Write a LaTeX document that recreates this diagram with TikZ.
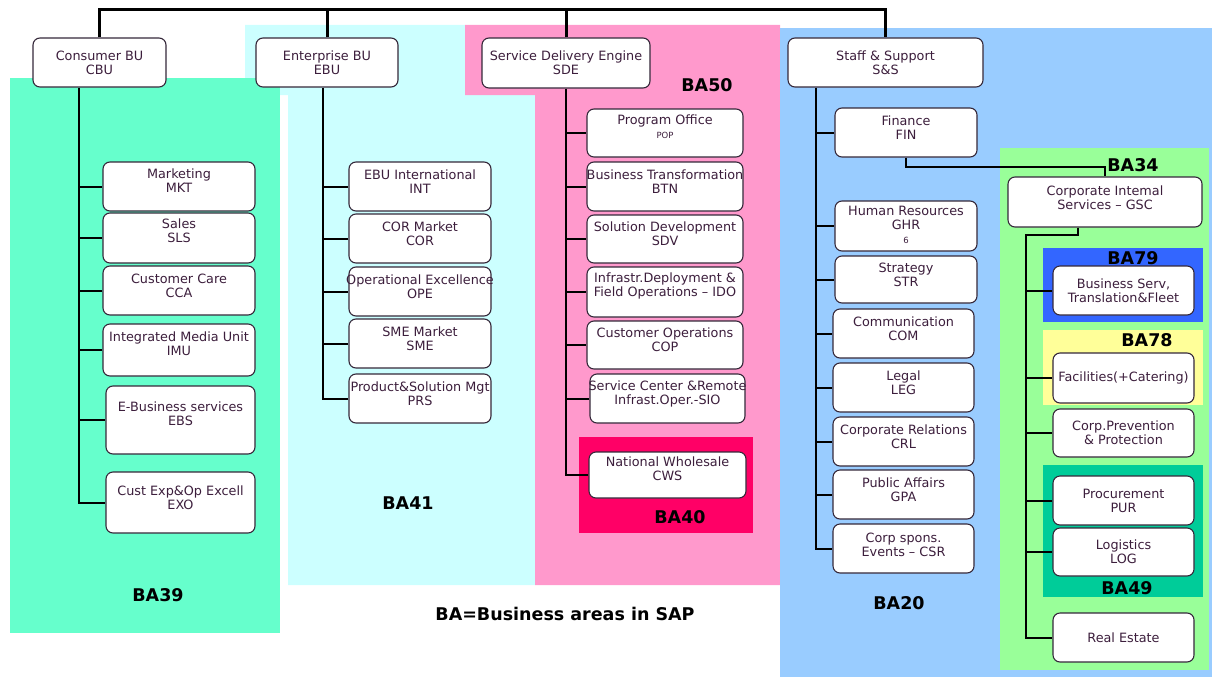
\documentclass[tikz,border=0pt]{standalone}
\usepackage{fontspec}
\setmainfont{DejaVu Sans}
\definecolor{cA}{HTML}{66FFCC}
\definecolor{cB}{HTML}{CCFFFF}
\definecolor{cC}{HTML}{FF99CC}
\definecolor{cD}{HTML}{99CCFF}
\definecolor{cE}{HTML}{99FF99}
\definecolor{cF}{HTML}{3366FF}
\definecolor{cG}{HTML}{FFFF99}
\definecolor{cH}{HTML}{00CC99}
\definecolor{cI}{HTML}{FF0066}
\definecolor{boxline}{HTML}{35283A}
\definecolor{txtcol}{HTML}{3C1E3C}
\tikzset{
  obx/.style={draw=boxline, line width=1.1pt, rounded corners=7pt, fill=white, inner sep=0pt},
  otx/.style={text=txtcol, align=center, font=\fontsize{12.8}{14}\selectfont, inner sep=0pt},
  balbl/.style={font=\bfseries\fontsize{17.5}{20}\selectfont, text=black, inner sep=0pt},
  trunk/.style={line width=2pt, black},
  conn/.style={line width=2pt, black},
  topline/.style={line width=3pt, black},
}
\newcommand\obox[7][5]{%
  \node[obx, minimum width={#5-#3}, minimum height={#6-#4}] (#2) at ({(#3+#5)/2},{(#4+#6)/2}) {};
  \node[otx] (#2t) at ([yshift=#1pt]#2.center) {#7};
}
\newcommand\smalltxt{\fontsize{8.5}{9}\selectfont}
\begin{document}
\begin{tikzpicture}[x=1pt,y=-1pt]
\useasboundingbox (0,0) rectangle (1212,677);
% background areas
\fill[cB] (245,25) -- (465,25) -- (465,95) -- (535,95) -- (535,585) -- (288,585) -- (288,95) -- (245,95) -- cycle;
\fill[cA] (10,78) rectangle (280,633);
\fill[cC] (465,25) -- (780,25) -- (780,585) -- (535,585) -- (535,95) -- (465,95) -- cycle;
\fill[cD] (780,28) rectangle (1212,677);
\fill[cE] (1000,148) rectangle (1209,670);
\fill[cF] (1043,248) rectangle (1203,322);
\fill[cG] (1043,330) rectangle (1203,405);
\fill[cH] (1043,465) rectangle (1203,597);
\fill[cI] (579,437) rectangle (753,533);

% top level
\obox[0]{cbu}{33}{38}{166}{87}{Consumer BU\\CBU}
\obox[0]{ebu}{256}{38}{398}{87}{Enterprise BU\\EBU}
\obox[0]{sde}{482}{38}{650}{88}{Service Delivery Engine\\SDE}
\obox[0]{ss}{788}{38}{983}{87}{Staff \& Support\\S\&S}

% CBU
\obox[6]{mkt}{103}{162}{255}{211}{Marketing\\MKT}
\obox[7]{sls}{103}{213}{255}{263}{Sales\\SLS}
\obox[5]{cca}{103}{266}{255}{315}{Customer Care\\CCA}
\obox[6]{imu}{103}{324}{255}{376}{Integrated Media Unit\\IMU}
\obox[6]{ebs}{106}{386}{255}{454}{E-Business services\\EBS}
\obox[5]{exo}{106}{472}{255}{533}{Cust Exp\&Op Excell\\EXO}

% EBU
\obox[5]{int}{349}{162}{491}{211}{EBU International\\INT}
\obox[5]{cor}{349}{214}{491}{263}{COR Market\\COR}
\obox[5]{ope}{349}{267}{491}{316}{Operational Excellence\\OPE}
\obox[5]{sme}{349}{319}{491}{368}{SME Market\\SME}
\obox[5]{prs}{349}{374}{491}{423}{Product\&Solution Mgt\\PRS}

% SDE
\obox[6]{pop}{587}{109}{743}{157}{Program Office\\{\smalltxt POP}}
\obox[5]{btn}{587}{162}{743}{211}{Business Transformation\\BTN}
\obox[5]{sdv}{587}{215}{743}{263}{Solution Development\\SDV}
\obox[6]{ido}{587}{267}{743}{317}{Infrastr.Deployment \&\\Field Operations -- IDO}
\obox[5]{cop}{587}{321}{743}{369}{Customer Operations\\COP}
\obox[5]{sio}{590}{374}{745}{423}{Service Center \&Remote\\Infrast.Oper.-SIO}
\obox[6]{cws}{589}{452}{746}{498}{National Wholesale\\CWS}

% S&S
\obox[5]{fin}{835}{108}{977}{157}{Finance\\FIN}
\obox[1]{ghr}{835}{201}{977}{251}{Human Resources\\GHR\\{\smalltxt 6}}
\obox[5]{str}{835}{256}{977}{303}{Strategy\\STR}
\obox[5]{com}{833}{309}{974}{358}{Communication\\COM}
\obox[5]{leg}{833}{363}{974}{412}{Legal\\LEG}
\obox[5]{crl}{833}{417}{974}{466}{Corporate Relations\\CRL}
\obox[5]{gpa}{833}{470}{974}{519}{Public Affairs\\GPA}
\obox[4]{csr}{833}{524}{974}{573}{Corp spons.\\Events -- CSR}

% GSC
\obox[4]{gsc}{1008}{177}{1202}{227}{Corporate Intemal\\Services -- GSC}
\obox[0]{bst}{1053}{266}{1194}{315}{Business Serv,\\Translation\&Fleet}
\obox[0]{fac}{1053}{353}{1194}{403}{Facilities(+Catering)}
\obox[0]{cpp}{1053}{409}{1194}{457}{Corp.Prevention\\\& Protection}
\obox[0]{pur}{1053}{476}{1194}{525}{Procurement\\PUR}
\obox[0]{log}{1053}{528}{1194}{576}{Logistics\\LOG}
\obox[0]{re}{1053}{613}{1194}{662}{Real Estate}

% connectors
\coordinate (bar) at (0,10);
\draw[topline] (cbu.north) -- (cbu.north |- bar) -- (ss.north |- bar) -- (ss.north);
\draw[topline] (ebu.north) -- (ebu.north |- bar);
\draw[topline] (sde.north) -- (sde.north |- bar);

\coordinate (cbuX) at (79,0);
\draw[trunk] (cbu.south -| cbuX) |- (exo.west);
\foreach \n in {mkt,sls,cca,imu,ebs} \draw[conn] (cbuX |- \n.west) -- (\n.west);

\coordinate (ebuX) at (323,0);
\draw[trunk] (ebu.south -| ebuX) |- (prs.west);
\foreach \n in {int,cor,ope,sme} \draw[conn] (ebuX |- \n.west) -- (\n.west);

\coordinate (sdeX) at (566,0);
\draw[trunk] (sde.south -| sdeX) |- (cws.west);
\foreach \n in {pop,btn,sdv,ido,cop,sio} \draw[conn] (sdeX |- \n.west) -- (\n.west);

\coordinate (ssX) at (816,0);
\draw[trunk] (ss.south -| ssX) |- (csr.west);
\foreach \n in {fin,ghr,str,com,leg,crl,gpa} \draw[conn] (ssX |- \n.west) -- (\n.west);

\coordinate (fg) at (0,167);
\draw[trunk] (fin.south) -- (fin.south |- fg) -| (gsc.north);

\coordinate (gA) at (1078,235);
\coordinate (gscX) at (1026,0);
\draw[trunk] (gsc.south -| gA) -- (gA) -- (gA -| gscX) |- (re.west);
\foreach \n in {bst,fac,cpp,pur,log} \draw[conn] (gscX |- \n.west) -- (\n.west);

% labels
\node[balbl] (l39) at (158,595) {BA39};
\node[balbl] (l41) at (408,503) {BA41};
\node[balbl] (l50) at (707,85) {BA50};
\node[balbl] (l40) at (680,517) {BA40};
\node[balbl] (l20) at (899,603) {BA20};
\node[balbl] (l34) at (1133,165) {BA34};
\node[balbl] (l79) at (1133,258) {BA79};
\node[balbl] (l78) at (1147,340) {BA78};
\node[balbl] (l49) at (1127,588) {BA49};
\node[balbl] (lkey) at (565,614) {BA=Business areas in SAP};
\end{tikzpicture}
\end{document}
